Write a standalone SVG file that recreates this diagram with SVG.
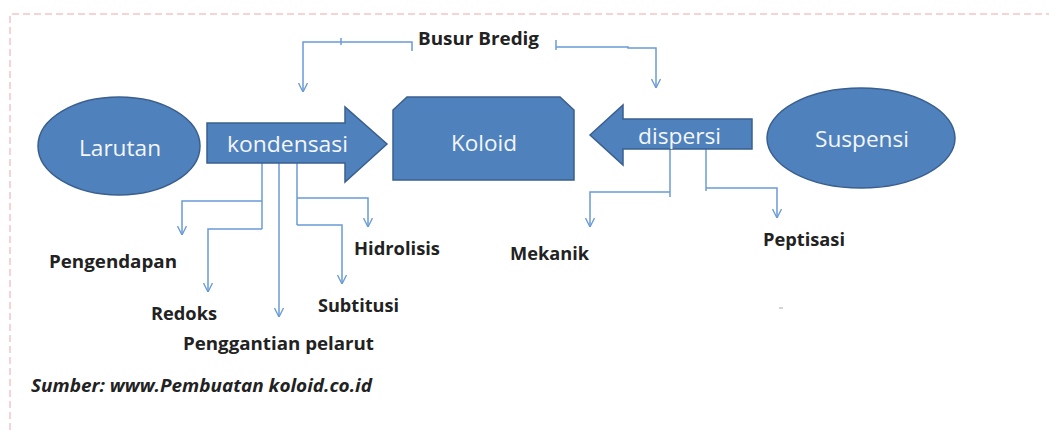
<svg xmlns="http://www.w3.org/2000/svg" width="1049" height="430" viewBox="0 0 1049 430">
<defs>
<style>
.shape{fill:#4f81bd;stroke:#3a5f8e;stroke-width:1.5}
.ntext{font-family:"Open Sans","Liberation Sans",sans-serif;font-size:22px;fill:#f4f6fa}
.lbl{font-family:"Open Sans","Liberation Sans",sans-serif;font-size:18px;font-weight:bold;fill:#222}
.con{fill:none;stroke:#6b9bd6;stroke-width:1.5}
.arr{marker-end:url(#ah)}
.border{fill:none;stroke:#f3c6c6;stroke-width:1.5;stroke-dasharray:7 4}
</style>
<marker id="ah" viewBox="0 0 10 10" refX="10" refY="5" markerWidth="9" markerHeight="11" markerUnits="userSpaceOnUse" orient="auto">
<path d="M0,0 L10,5 L0,10" fill="none" stroke="#6b9bd6" stroke-width="1.5"/>
</marker>
</defs>
<rect width="1049" height="430" fill="#fff"/>
<path class="border" d="M10,430 L10,14 L1049,14"/>

<g id="connectors">
<!-- Busur Bredig -->
<path class="con arr" d="M412,51 L412,42 L303,42 L303,92"/>
<path class="con" d="M341,38 L341,45"/>
<path class="con" d="M556,40 L556,50"/>
<path class="con arr" d="M556,47 L628,47 L628,48 L656,48 L656,88"/>
<!-- kondensasi -->
<path class="con" d="M262,163 L262,229"/>
<path class="con arr" d="M262,201 L182,201 L182,235"/>
<path class="con arr" d="M262,229 L208,229 L208,292"/>
<path class="con arr" d="M279,163 L279,317"/>
<path class="con" d="M297,163 L297,225"/>
<path class="con arr" d="M297,198 L368,198 L368,227"/>
<path class="con arr" d="M297,225 L342,225 L342,284"/>
<!-- dispersi -->
<path class="con" d="M670,149 L670,197"/>
<path class="con arr" d="M670,192 L590,192 L590,227"/>
<path class="con" d="M706,149 L706,191"/>
<path class="con arr" d="M706,188 L777,188 L777,218"/>
</g>

<g id="larutan">
<ellipse class="shape" cx="119" cy="146" rx="81" ry="49"/>
<text class="ntext" x="79" y="156" textLength="82" lengthAdjust="spacingAndGlyphs">Larutan</text>
</g>

<g id="kondensasi">
<path class="shape" d="M207,123 L345,123 L345,107 L387,144 L345,182 L345,163 L207,163 Z"/>
<text class="ntext" x="227" y="152" textLength="121" lengthAdjust="spacingAndGlyphs">kondensasi</text>
</g>

<g id="koloid">
<path class="shape" d="M393,110 L407,97 L560,97 L574,110 L574,180 L393,180 Z"/>
<text class="ntext" x="451" y="151" textLength="66" lengthAdjust="spacingAndGlyphs">Koloid</text>
</g>

<g id="dispersi">
<path class="shape" d="M590,135 L623,105 L623,119 L752,119 L752,149 L623,149 L623,165 Z"/>
<text class="ntext" x="638" y="144" textLength="83" lengthAdjust="spacingAndGlyphs">dispersi</text>
</g>

<g id="suspensi">
<ellipse class="shape" cx="861" cy="138" rx="94" ry="50"/>
<text class="ntext" x="815" y="147" textLength="94" lengthAdjust="spacingAndGlyphs">Suspensi</text>
</g>

<g id="labels">
<text class="lbl" x="418" y="45" textLength="121" lengthAdjust="spacingAndGlyphs">Busur Bredig</text>
<text class="lbl" x="49" y="268" textLength="128" lengthAdjust="spacingAndGlyphs">Pengendapan</text>
<text class="lbl" x="151" y="320" textLength="66" lengthAdjust="spacingAndGlyphs">Redoks</text>
<text class="lbl" x="183" y="350" textLength="191" lengthAdjust="spacingAndGlyphs">Penggantian pelarut</text>
<text class="lbl" x="318" y="312" textLength="81" lengthAdjust="spacingAndGlyphs">Subtitusi</text>
<text class="lbl" x="354" y="255" textLength="86" lengthAdjust="spacingAndGlyphs">Hidrolisis</text>
<text class="lbl" x="510" y="260" textLength="79" lengthAdjust="spacingAndGlyphs">Mekanik</text>
<text class="lbl" x="763" y="246" textLength="82" lengthAdjust="spacingAndGlyphs">Peptisasi</text>
<text class="lbl" x="31" y="392" font-style="italic" fill="#111" textLength="341" lengthAdjust="spacingAndGlyphs">Sumber: www.Pembuatan koloid.co.id</text>
</g>
<path d="M779,308 L783,308" stroke="#aaa" stroke-width="1"/>
</svg>
